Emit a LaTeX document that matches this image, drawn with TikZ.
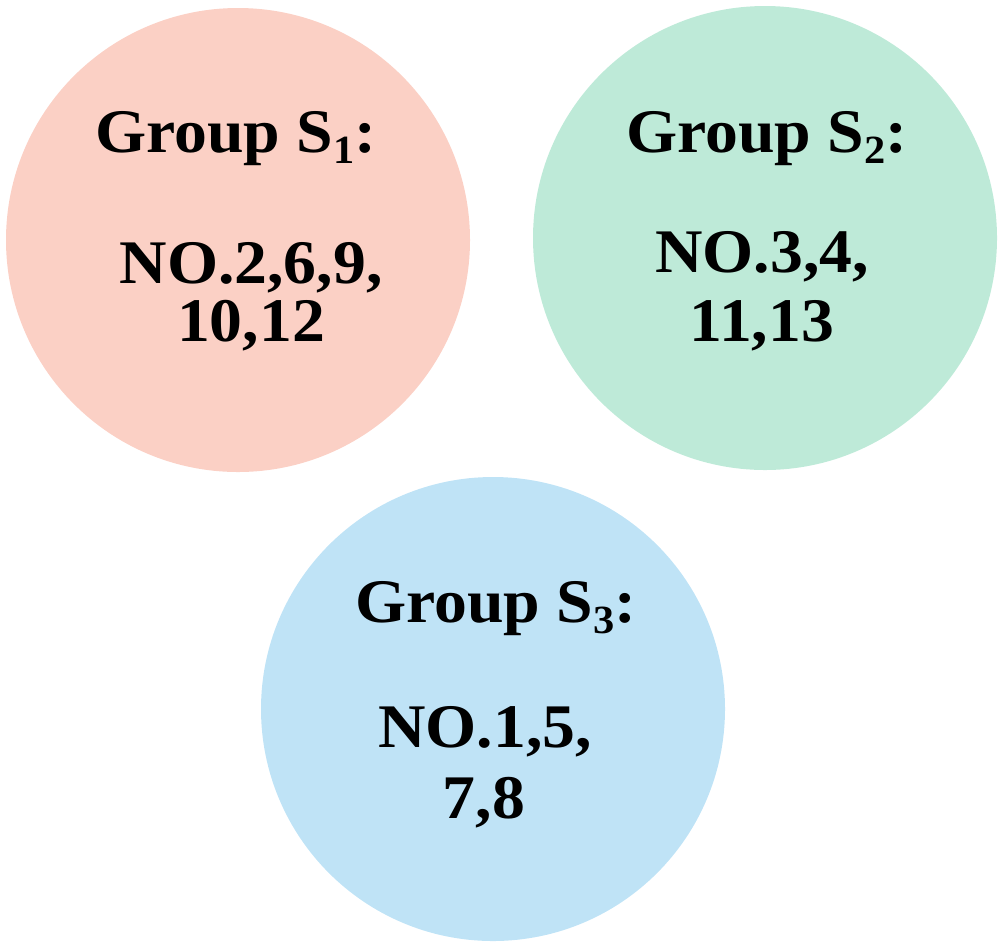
\documentclass[tikz,border=0pt]{standalone}
\usepackage{fontspec}
\setmainfont{Liberation Serif}
\definecolor{cpink}{RGB}{251,208,197}
\definecolor{cgreen}{RGB}{190,234,216}
\definecolor{cblue}{RGB}{191,227,246}
\newcommand{\subn}[1]{\raisebox{-0.18em}{\fontsize{40}{40}\selectfont #1}}
\tikzset{
  grp/.style={circle, draw=none, minimum size=464pt, inner sep=0pt},
  txt/.style={anchor=base, inner sep=0pt, font=\bfseries\fontsize{62}{62}\selectfont, xscale=1.06}
}
\begin{document}
\begin{tikzpicture}[x=1pt,y=-1pt]
\useasboundingbox (0,0) rectangle (1000,946);
\node[grp, fill=cpink] (c1) at (238,240) {};
\node[grp, fill=cgreen] (c2) at (765,238) {};
\node[grp, fill=cblue] (c3) at (493,709) {};
\node[txt] (t1a) at (236,152) {Group S\subn{1}:};
\node[txt] (t1b) at (251,283) {NO.2,6,9,};
\node[txt] (t1c) at (251,341) {10,12};
\node[txt] (t2a) at (767,152) {Group S\subn{2}:};
\node[txt] (t2b) at (762,272) {NO.3,4,};
\node[txt] (t2c) at (762,341) {11,13};
\node[txt] (t3a) at (496,622) {Group S\subn{3}:};
\node[txt] (t3b) at (485,747) {NO.1,5,};
\node[txt] (t3c) at (484,818) {7,8};
\end{tikzpicture}
\end{document}
